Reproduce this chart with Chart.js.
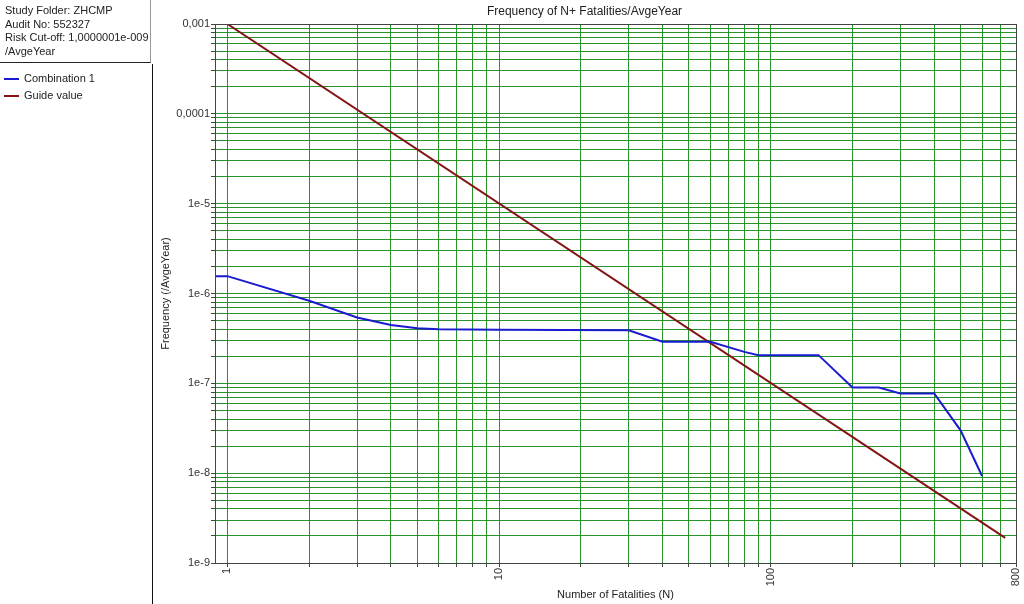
<!DOCTYPE html>
<html>
<head>
<meta charset="utf-8">
<script src="https://cdn.jsdelivr.net/npm/chart.js"></script>
<style>
    body { margin: 0; background: #fff; font-family: "Liberation Sans", Arial, sans-serif; }
    #wrap { position: relative; width: 1024px; height: 604px; }
    #chart { position: absolute; left: 0; top: 0; }
    #info { position: absolute; left: 0; top: 0; width: 151px; height: 63px; border-right: 1px solid #999; border-bottom: 1px solid #222;
            font-size: 11px; line-height: 13.5px; color: #222; padding: 4px 0 0 5px; box-sizing: border-box; }
    #side { position: absolute; left: 152px; top: 64px; width: 1px; height: 540px; background: #111; }
    #legend { position: absolute; left: 4px; top: 72px; font-size: 11px; color: #222; }
    #legend div { height: 17px; line-height: 13px; }
    #legend span { display: inline-block; width: 15px; height: 2px; vertical-align: middle; margin-right: 5px; }
</style>
</head>
<body>
<div id="wrap">
    <canvas id="chart" width="1024" height="604"></canvas>
    <div id="info">Study Folder: ZHCMP<br>Audit No: 552327<br>Risk Cut-off: 1,0000001e-009<br>/AvgeYear</div>
    <div id="side"></div>
    <div id="legend">
        <div><span style="background:#1a1ad0"></span>Combination 1</div>
        <div><span style="background:#841414"></span>Guide value</div>
    </div>
</div>
<script>
// values
var combN = [0.9, 1, 2, 3, 4, 5, 6, 10, 30, 40, 60, 80, 90, 150, 200, 250, 300, 400, 500, 600];
var combF = [1.56e-6, 1.56e-6, 8.3e-7, 5.4e-7, 4.45e-7, 4.1e-7, 4.0e-7, 3.95e-7, 3.9e-7, 2.9e-7, 2.9e-7, 2.24e-7, 2.06e-7, 2.06e-7, 9e-8, 9e-8, 7.7e-8, 7.7e-8, 3.0e-8, 9.3e-9];
var guideN = [1, 730];
var guideF = [1e-3, 1.9e-9];

// grid lines and labels
var xTicks = [1, 2, 3, 4, 5, 6, 7, 8, 9, 10, 20, 30, 40, 50, 60, 70, 80, 90, 100, 200, 300, 400, 500, 600, 700, 800];
var xLabels = { 1: '1', 10: '10', 100: '100', 800: '800' };
var yDecades = [1e-9, 1e-8, 1e-7, 1e-6, 1e-5, 1e-4];
var yLabels = ['1e-9', '1e-8', '1e-7', '1e-6', '1e-5', '0,0001', '0,001'];

function yTickValues() {
    var out = [];
    yDecades.forEach(function (d) {
        for (var k = 1; k < 10; k++) out.push(parseFloat((k * d).toPrecision(3)));
    });
    out.push(1e-3);
    return out;
}

function yLabel(v) {
    var e = Math.round(Math.log10(v));
    if (Math.abs(Math.log10(v) - e) > 1e-6) return '';
    return yLabels[e + 9] || '';
}

function pts(xs, ys) {
    return xs.map(function (x, i) { return { x: x, y: ys[i] }; });
}

var frame = {
    id: 'frame',
    afterDraw: function (chart) {
        var a = chart.chartArea, c = chart.ctx;
        c.save();
        c.strokeStyle = '#444';
        c.lineWidth = 1;
        c.strokeRect(Math.round(a.left) + 0.5, Math.round(a.top) + 0.5, Math.round(a.right - a.left), Math.round(a.bottom - a.top));
        c.restore();
    }
};

var green = 'rgba(20,135,20,0.9)';

new Chart(document.getElementById('chart'), {
    type: 'scatter',
    data: {
        datasets: [{
            label: 'Combination 1',
            data: pts(combN, combF),
            showLine: true,
            borderColor: '#1a1ad0',
            borderWidth: 2,
            pointRadius: 0,
            tension: 0
        }, {
            label: 'Guide value',
            data: pts(guideN, guideF),
            showLine: true,
            borderColor: '#841414',
            borderWidth: 2,
            pointRadius: 0
        }]
    },
    options: {
        responsive: false,
        animation: false,
        layout: { padding: { left: 153, right: 8, top: 0, bottom: 0 } },
        plugins: {
            legend: { display: false },
            tooltip: { enabled: false },
            title: {
                display: true,
                text: 'Frequency of N+ Fatalities/AvgeYear',
                color: '#222',
                font: { family: 'Liberation Sans', size: 12, weight: 'normal' },
                padding: { top: 4, bottom: 5.6 },
                align: 'center'
            }
        },
        scales: {
            x: {
                type: 'logarithmic',
                min: 0.9,
                max: 800,
                afterBuildTicks: function (s) { s.ticks = xTicks.map(function (v) { return { value: v }; }); },
                afterFit: function (s) { s.height = 41; s.paddingLeft = 0; s.paddingRight = 0; },
                grid: { color: green, tickColor: '#444', tickLength: 4 },
                border: { display: true, color: '#444' },
                ticks: {
                    autoSkip: false,
                    minRotation: 90,
                    maxRotation: 90,
                    padding: 1,
                    color: '#333',
                    font: { family: 'Liberation Sans', size: 11 },
                    callback: function (v) { return xLabels[v] || ''; }
                },
                title: {
                    display: true,
                    text: 'Number of Fatalities (N)',
                    color: '#222',
                    font: { family: 'Liberation Sans', size: 11 },
                    padding: { top: 0, bottom: 2 }
                }
            },
            y: {
                type: 'logarithmic',
                min: 1e-9,
                max: 1e-3,
                afterBuildTicks: function (s) { s.ticks = yTickValues().map(function (v) { return { value: v }; }); },
                afterFit: function (s) { s.width = 62; s.paddingTop = 0; s.paddingBottom = 0; },
                grid: { color: green, tickColor: '#444', tickLength: 4 },
                border: { display: true, color: '#444' },
                ticks: {
                    autoSkip: false,
                    padding: 1,
                    color: '#333',
                    font: { family: 'Liberation Sans', size: 11 },
                    callback: function (v) { return yLabel(v); }
                },
                title: {
                    display: true,
                    text: 'Frequency (/AvgeYear)',
                    color: '#222',
                    font: { family: 'Liberation Sans', size: 11 },
                    padding: { top: 6, bottom: 0 }
                }
            }
        }
    },
    plugins: [frame]
});
</script>
</body>
</html>
